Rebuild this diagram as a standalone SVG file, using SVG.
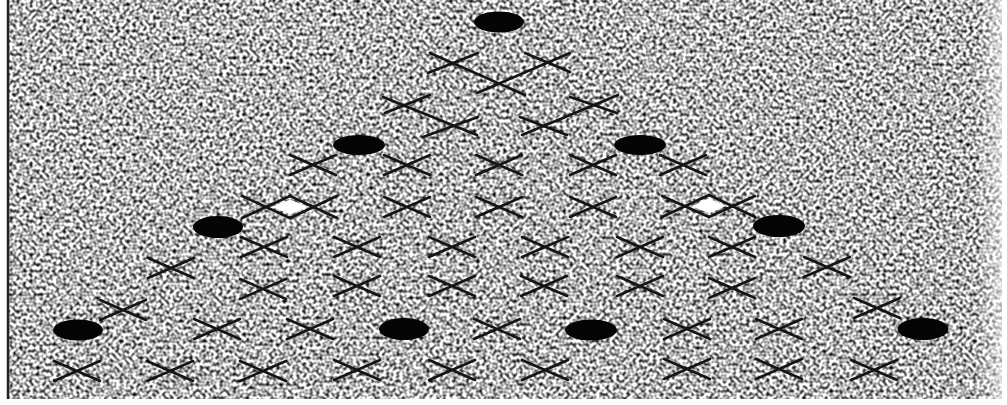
<svg xmlns="http://www.w3.org/2000/svg" xmlns:xlink="http://www.w3.org/1999/xlink" width="1007" height="405" viewBox="0 0 1007 405">
  <defs>
    <filter id="grain" x="0" y="0" width="1" height="1" color-interpolation-filters="sRGB">
      <feTurbulence type="fractalNoise" baseFrequency="0.3" numOctaves="1" seed="7"/>
      <feColorMatrix type="matrix" values="2.3 0 0 0 -0.45  2.3 0 0 0 -0.45  2.3 0 0 0 -0.45  0 0 0 0 1"/>
    </filter>
    <linearGradient id="fade" x1="0" y1="0" x2="1" y2="0">
      <stop offset="0" stop-color="#fff" stop-opacity="0"/>
      <stop offset="1" stop-color="#fff" stop-opacity="0.6"/>
    </linearGradient>
    <path id="x" d="M-23,-10 L23,10 M-23,10 L23,-10"/>
    <style>
      .ln { stroke: #141414; stroke-width: 2.6; stroke-linecap: round; fill: none; }
      .dot { fill: #050505; }
      .hole { fill: #ffffff; }
    </style>
  </defs>

  <rect width="1007" height="405" fill="#ffffff"/>
  <rect x="8" y="0" width="994" height="399" filter="url(#grain)"/>
  <rect x="975" y="0" width="27" height="399" fill="url(#fade)"/>
  <line x1="8" y1="0" x2="8" y2="399" stroke="#222" stroke-width="2.5"/>

  <g id="lattice" class="ln">
    <line x1="430" y1="53" x2="525" y2="95"/>
    <line x1="428" y1="73" x2="478" y2="53"/>
    <line x1="477" y1="93" x2="570" y2="53"/>
    <line x1="525" y1="53" x2="570" y2="72"/>
    <line x1="383" y1="97" x2="477" y2="135"/>
    <line x1="385" y1="113" x2="430" y2="95"/>
    <line x1="423" y1="137" x2="478" y2="117"/>
    <line x1="520" y1="117" x2="567" y2="135"/>
    <line x1="522" y1="135" x2="618" y2="95"/>
    <line x1="570" y1="97" x2="617" y2="113"/>
    <line x1="242" y1="196" x2="290" y2="218"/>
    <line x1="242" y1="218" x2="290" y2="196"/>
    <line x1="290" y1="196" x2="337" y2="218"/>
    <line x1="290" y1="218" x2="337" y2="196"/>
    <line x1="662" y1="196" x2="709" y2="217"/>
    <line x1="662" y1="217" x2="709" y2="195"/>
    <line x1="709" y1="195" x2="755" y2="217"/>
    <line x1="709" y1="217" x2="755" y2="196"/>
  </g>
  <g id="holes">
    <polygon class="hole" points="272,207 290,199.5 308,207 290,214.5"/>
    <polygon class="hole" points="692,206 709,198.5 726,206 709,213.5"/>
  </g>

  <g id="crosses" class="ln">
    <use xlink:href="#x" x="313" y="165"/>
    <use xlink:href="#x" x="407" y="165"/>
    <use xlink:href="#x" x="499" y="165"/>
    <use xlink:href="#x" x="593" y="165"/>
    <use xlink:href="#x" x="683" y="165"/>

    <use xlink:href="#x" x="407" y="207"/>
    <use xlink:href="#x" x="499" y="207"/>
    <use xlink:href="#x" x="593" y="207"/>

    <use xlink:href="#x" x="264" y="247"/>
    <use xlink:href="#x" x="357" y="247"/>
    <use xlink:href="#x" x="452" y="247"/>
    <use xlink:href="#x" x="545" y="247"/>
    <use xlink:href="#x" x="640" y="247"/>
    <use xlink:href="#x" x="732" y="247"/>

    <use xlink:href="#x" x="171" y="268"/>
    <use xlink:href="#x" x="827" y="267"/>

    <use xlink:href="#x" x="263" y="289"/>
    <use xlink:href="#x" x="357" y="286"/>
    <use xlink:href="#x" x="452" y="286"/>
    <use xlink:href="#x" x="544" y="286"/>
    <use xlink:href="#x" x="640" y="286"/>
    <use xlink:href="#x" x="732" y="288"/>

    <use xlink:href="#x" x="123" y="310"/>
    <use xlink:href="#x" x="877" y="308"/>

    <use xlink:href="#x" x="217" y="329"/>
    <use xlink:href="#x" x="310" y="329"/>
    <use xlink:href="#x" x="497" y="329"/>
    <use xlink:href="#x" x="687" y="329"/>
    <use xlink:href="#x" x="779" y="329"/>

    <use xlink:href="#x" x="77" y="371"/>
    <use xlink:href="#x" x="170" y="371"/>
    <use xlink:href="#x" x="263" y="371"/>
    <use xlink:href="#x" x="357" y="370"/>
    <use xlink:href="#x" x="452" y="370"/>
    <use xlink:href="#x" x="545" y="370"/>
    <use xlink:href="#x" x="687" y="369"/>
    <use xlink:href="#x" x="779" y="369"/>
    <use xlink:href="#x" x="874" y="370"/>
  </g>

  <g id="dots">
    <ellipse id="dot-top" class="dot" cx="499" cy="22" rx="25" ry="10.5"/>
    <ellipse id="dot-l1" class="dot" cx="359" cy="145" rx="26" ry="10"/>
    <ellipse id="dot-r1" class="dot" cx="640" cy="145" rx="26" ry="10"/>
    <ellipse id="dot-l2" class="dot" cx="218" cy="227" rx="25" ry="11"/>
    <ellipse id="dot-r2" class="dot" cx="779" cy="226" rx="26" ry="11"/>
    <ellipse id="dot-b1" class="dot" cx="78" cy="330" rx="25" ry="10.5"/>
    <ellipse id="dot-b2" class="dot" cx="404" cy="329" rx="25" ry="11"/>
    <ellipse id="dot-b3" class="dot" cx="591" cy="330" rx="26" ry="10.5"/>
    <ellipse id="dot-b4" class="dot" cx="923" cy="329" rx="25.5" ry="11"/>
  </g>
</svg>
